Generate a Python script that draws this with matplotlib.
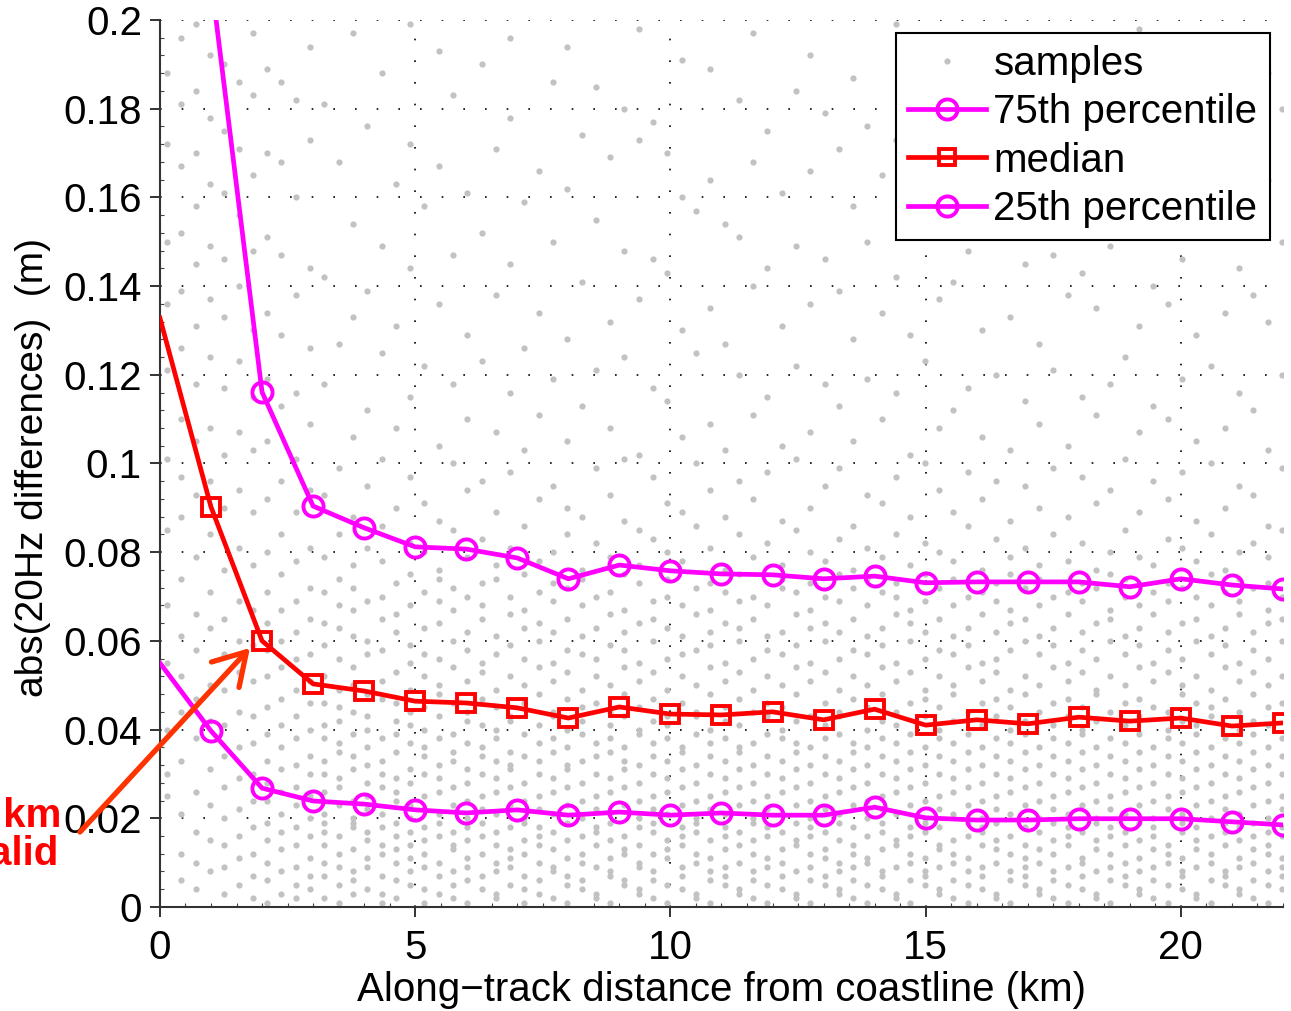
import matplotlib
matplotlib.use("Agg")
import matplotlib.pyplot as plt
from matplotlib.lines import Line2D
from matplotlib.ticker import FixedLocator, MultipleLocator

plt.rcParams['font.family'] = ['Liberation Sans', 'DejaVu Sans']

# percentiles per 1 km bin
dist_km = list(range(0, 23))
p75 = [0.260, 0.2093, 0.1161, 0.0904, 0.0855, 0.0812, 0.0807, 0.0787, 0.0740, 0.0771,
       0.0758, 0.0751, 0.0749, 0.0740, 0.0746, 0.0731, 0.0733, 0.0733, 0.0733, 0.0722,
       0.0740, 0.0726, 0.0717]
p50 = [0.1328, 0.0902, 0.0600, 0.0503, 0.0487, 0.0464, 0.0460, 0.0449, 0.0426, 0.0451,
       0.0435, 0.0433, 0.0440, 0.0422, 0.0446, 0.0410, 0.0422, 0.0413, 0.0428, 0.0419,
       0.0426, 0.0408, 0.0415]
p25 = [0.0550, 0.0397, 0.0268, 0.0239, 0.0232, 0.0219, 0.0212, 0.0219, 0.0207, 0.0214,
       0.0207, 0.0212, 0.0207, 0.0207, 0.0225, 0.0201, 0.0196, 0.0196, 0.0199, 0.0199,
       0.0199, 0.0192, 0.0185]

# 20Hz samples: along-track positions (km) and values in mm for each position
sample_x = [0.14, 0.42, 0.70, 0.98, 1.26, 1.54, 1.82, 2.10, 2.38, 2.66, 2.94, 3.22, 3.50,
            3.78, 4.06, 4.34, 4.62, 4.90, 5.18, 5.46, 5.74, 6.02, 6.30, 6.58, 6.86, 7.14,
            7.42, 7.70, 7.98, 8.26, 8.54, 8.82, 9.10, 9.38, 9.66, 9.94, 10.22, 10.50, 10.78,
            11.06, 11.34, 11.62, 11.90, 12.18, 12.46, 12.74, 13.02, 13.30, 13.58, 13.86,
            14.14, 14.42, 14.70, 14.98, 15.26, 15.54, 15.82, 16.10, 16.38, 16.66, 16.94,
            17.22, 17.50, 17.78, 18.06, 18.34, 18.62, 18.90, 19.18, 19.46, 19.74, 20.02,
            20.30, 20.58, 20.86, 21.14, 21.42, 21.70, 21.98]
sample_mm = [
    "25 30 40 55 68 85 101 121 136 150 172 188",
    "6 12 21 33 44 52 61 74 88 97 110 126 139 152 167 181 196",
    "4 10 17 26 38 47 58 66 79 93 105 118 131 145 158 170 184 199",
    "8 15 23 31 42 50 63 71 84 96 108 124 137 149 163 178 192",
    "3 9 14 20 27 34 41 49 57 65 76 90 102 117 133 146 161 175 190",
    "5 11 16 22 29 36 44 53 60 69 81 94 107 123 140 156 171 186",
    "2 7 12 18 24 30 37 43 51 59 67 77 89 103 115 130 148 165 183 197",
    "1 6 10 15 19 24 28 33 39 45 52 58 64 71 80 92 105 119 134 151 170 189",
    "3 8 13 17 21 26 31 36 41 47 54 60 67 75 84 96 113 129 147 168 186",
    "2 5 9 14 18 23 27 32 38 43 49 56 62 69 78 89 101 116 138 160 182",
    "4 7 11 16 20 25 30 34 40 46 51 57 65 72 81 94 109 126 144 173 194",
    "2 7 10 14 17 19 21 26 30 33 38 41 46 52 59 64 71 79 93 118 142 181",
    "1 5 9 12 16 23 27 29 35 37 42 45 49 56 63 68 74 84 99 127 168",
    "3 6 8 13 18 19 20 24 31 34 39 44 50 54 61 67 72 77 88 106 133 154 197",
    "4 9 11 15 17 22 25 28 32 36 40 43 48 57 60 69 81 95 112 139 176",
    "1 3 7 12 14 18 21 27 30 33 38 47 51 58 65 70 78 86 101 125 149 188",
    "2 6 10 13 16 19 24 26 29 35 39 42 46 53 62 66 73 90 108 131 163",
    "5 8 11 14 17 20 23 28 31 37 41 44 49 55 59 68 75 82 97 115 144 172 199",
    "1 4 9 12 15 18 22 25 30 34 36 40 45 52 57 63 71 80 91 122 158",
    "3 7 10 16 19 21 26 29 32 38 43 48 50 56 64 69 74 76 87 104 136 167 193",
    "2 5 8 13 14 17 23 27 33 35 39 46 54 60 67 72 85 100 118 147 183",
    "1 6 9 11 15 18 20 24 28 31 37 42 44 51 58 62 70 79 94 110 129 161",
    "4 7 12 16 19 22 25 30 34 36 41 47 53 55 65 68 73 83 96 123 152 190",
    "2 3 8 10 14 17 21 26 29 33 38 40 45 49 57 61 74 77 89 107 138 171",
    "5 9 11 13 18 23 27 31 32 35 42 43 52 59 66 70 81 98 116 145 178 196",
    "1 4 7 12 15 19 20 24 28 34 39 46 50 56 63 67 75 86 103 126 159",
    "3 6 10 14 16 18 22 25 30 33 37 41 48 54 60 64 71 78 92 111 134 166",
    "2 8 9 13 17 21 26 29 35 38 43 44 51 55 62 69 73 80 95 119 150 186",
    "1 5 7 11 15 19 23 27 31 32 36 40 47 53 58 65 72 84 90 105 128 162 194",
    "4 6 10 12 16 20 24 28 33 39 42 45 49 57 61 68 74 76 88 113 141 174",
    "2 3 9 14 17 18 22 25 30 34 37 46 52 56 63 70 82 99 121 155 185",
    "1 7 8 11 15 19 21 26 29 35 38 41 44 50 59 66 71 79 93 108 132 169",
    "5 6 12 13 16 23 27 31 33 36 43 48 54 58 62 67 75 87 101 124 148 180",
    "3 4 9 10 14 18 20 24 28 32 39 40 45 51 55 64 73 77 85 102 137 173 198",
    "2 6 8 12 17 19 22 25 30 34 37 42 47 53 60 65 69 83 97 117 146 177",
    "1 5 11 13 15 21 26 29 33 38 41 43 49 56 63 70 74 80 91 114 143 170",
    "4 7 9 14 16 18 23 27 31 35 36 46 52 57 61 68 78 89 106 130 160 191",
    "2 3 10 12 17 19 20 24 28 32 39 43 44 50 58 66 72 86 100 125 157",
    "1 6 8 11 15 22 25 30 34 37 40 48 54 59 62 67 73 81 94 109 135 164 189",
    "5 7 9 13 16 18 21 26 29 33 38 42 45 51 55 64 71 76 88 103 127 154",
    "3 4 10 14 17 23 27 31 35 36 41 47 53 60 63 69 75 84 96 120 151 182",
    "2 6 8 12 15 19 20 24 28 32 37 44 49 56 65 70 79 92 111 140 168 197",
    "1 5 9 11 16 18 22 25 30 34 39 43 46 52 58 61 68 82 98 115 144 175",
    "4 7 10 13 17 21 26 29 33 38 40 45 50 57 62 72 74 77 87 104 131 161",
    "2 3 8 14 15 19 23 27 31 35 37 42 48 54 59 66 71 85 101 122 149 184",
    "1 6 9 12 16 18 20 24 28 32 36 43 51 55 63 67 73 80 90 107 136 166 192",
    "5 7 11 13 17 22 25 30 34 38 41 46 53 60 64 70 78 95 118 146 179",
    "3 4 8 10 15 19 21 26 29 33 39 43 44 49 56 62 69 75 83 99 113 139 171",
    "2 6 9 12 14 18 23 27 31 35 37 47 52 58 65 72 76 86 105 128 158 187",
    "1 5 10 11 16 20 24 28 32 36 40 45 50 57 61 68 74 81 93 119 150 176",
    "4 7 8 13 17 19 22 25 30 34 38 42 48 54 59 63 71 79 91 110 134 165",
    "2 3 9 14 15 21 26 29 33 37 41 44 51 55 66 70 73 84 97 116 142 173 199",
    "1 6 10 12 16 18 23 27 31 35 39 46 53 60 64 67 77 88 102 129 162",
    "5 7 8 11 17 19 20 24 28 32 36 43 47 49 56 62 69 75 82 100 123 153 183",
    "3 4 9 13 14 18 22 25 30 34 38 40 45 52 58 65 72 80 94 108 137 170 194",
    "2 6 10 12 15 21 26 29 33 37 42 48 50 57 61 68 74 78 89 112 141 167",
    "1 5 8 11 16 19 23 27 31 35 39 44 54 59 63 70 86 98 117 148 180",
    "4 7 9 14 17 18 20 24 28 32 36 41 46 51 55 66 71 76 92 106 130 159 190",
    "2 3 10 13 15 19 22 25 30 34 38 43 47 53 56 62 69 73 83 96 120 151",
    "1 6 8 12 16 21 26 29 33 37 40 45 49 58 64 67 75 79 87 103 133 163 186",
    "5 7 9 11 14 18 23 27 31 35 39 42 48 52 60 65 72 81 95 114 145 174",
    "3 4 10 13 17 20 24 28 32 36 44 50 57 61 68 74 77 90 109 127 156 196",
    "2 6 8 12 15 19 22 25 30 34 38 41 46 54 59 63 70 84 99 121 147 177",
    "1 5 9 14 16 18 21 26 29 33 37 43 47 51 55 66 71 78 88 104 138 168",
    "4 7 10 11 17 23 27 31 35 39 40 45 53 58 62 69 73 82 97 115 143 181 192",
    "2 3 8 13 15 19 20 24 28 32 36 42 48 49 56 64 72 76 91 111 135 164",
    "1 6 9 12 16 18 22 25 30 34 38 44 52 60 65 67 75 80 94 118 149 179",
    "5 7 10 14 17 21 26 29 33 37 41 46 50 57 61 70 74 85 101 124 152 185",
    "3 4 8 11 15 19 23 27 31 35 39 43 47 54 59 63 68 79 89 107 131 160 198",
    "2 6 9 13 16 18 20 24 28 32 36 45 51 55 66 71 77 96 113 140 171",
    "1 5 10 12 14 22 25 30 34 38 40 44 53 58 62 69 73 83 92 110 136 166 189",
    "4 7 8 11 17 19 21 26 29 33 37 42 48 50 56 64 72 81 98 119 146 175",
    "2 3 9 13 15 18 23 27 31 35 39 41 46 52 60 65 70 78 87 105 129 157 193",
    "1 6 10 12 16 20 24 28 32 36 43 45 49 57 61 68 75 84 100 122 153 182",
    "5 7 8 14 17 19 22 25 30 34 38 47 54 59 63 71 76 90 108 134 162",
    "3 4 9 11 15 18 21 26 29 33 37 40 44 51 55 66 69 74 80 95 116 144 178 195",
    "2 6 10 13 16 19 23 27 31 35 39 42 48 53 58 62 72 82 93 112 138 169",
    "1 5 8 12 14 17 20 24 28 32 36 41 45 50 56 64 67 73 79 86 103 132 164 188",
    "4 7 9 11 16 18 22 25 30 34 38 46 52 60 65 70 85 99 120 150 180",
]

xs, ys = [], []
for x, col in zip(sample_x, sample_mm):
    for v in col.split():
        xs.append(x)
        ys.append(int(v) / 1000.0)

MAG = '#ff00ff'
RED = '#ff0000'
FS = 29

fig = plt.figure(figsize=(12.91, 10.11), dpi=100)
ax = fig.add_axes([0.1239, 0.1029, 0.8699, 0.8773])

ax.plot(xs, ys, ls='none', marker='o', ms=4.5, color='#c2c2c2', mec='none', zorder=1)

marks = list(range(1, 23))
ax.plot(dist_km, p75, color=MAG, lw=3.4, marker='o', ms=14.5, mfc='none',
        mec=MAG, mew=2.8, markevery=marks, zorder=3)
ax.plot(dist_km, p50, color=RED, lw=3.4, marker='s', ms=13, mfc='none',
        mec=RED, mew=2.8, markevery=marks, zorder=3)
ax.plot(dist_km, p25, color=MAG, lw=3.4, marker='o', ms=14.5, mfc='none',
        mec=MAG, mew=2.8, markevery=marks, zorder=3)

ax.set_xlim(0, 22)
ax.set_ylim(0, 0.2)
ax.xaxis.set_major_locator(FixedLocator([0, 5, 10, 15, 20]))
ax.set_xticklabels(['0', '5', '10', '15', '20'])
yt = [0, 0.02, 0.04, 0.06, 0.08, 0.1, 0.12, 0.14, 0.16, 0.18, 0.2]
ax.yaxis.set_major_locator(FixedLocator(yt))
ax.set_yticklabels(['0', '0.02', '0.04', '0.06', '0.08', '0.1', '0.12', '0.14',
                    '0.16', '0.18', '0.2'])
ax.xaxis.set_minor_locator(MultipleLocator(0.5))
ax.yaxis.set_minor_locator(MultipleLocator(0.004))
ax.tick_params(which='major', direction='out', length=7, width=1.3, labelsize=FS,
               color='#222222')
ax.tick_params(axis='x', which='major', pad=9)
ax.tick_params(axis='y', which='major', pad=6)
ax.tick_params(which='minor', direction='in', length=3, width=0.8, color='#444444')

for s in ['top', 'right']:
    ax.spines[s].set_visible(False)
for s in ['left', 'bottom']:
    ax.spines[s].set_linewidth(1.5)
    ax.spines[s].set_color('#333333')

ax.set_axisbelow(True)
ax.grid(which='major', color='black', linestyle=(0, (1, 12)), linewidth=1.2)

ax.set_xlabel('Along\u2212track distance from coastline (km)', fontsize=FS)
ax.xaxis.label.set_va('center')
ax.xaxis.set_label_coords(0.4996, -0.0936)
ax.set_ylabel('abs(20Hz differences)  (m)', fontsize=28)
ax.yaxis.label.set_va('center')
ax.yaxis.set_label_coords(-0.113, 0.495)

handles = [
    Line2D([], [], ls='none', marker='o', ms=4.5, color='#c2c2c2', mec='none'),
    Line2D([], [], color=MAG, lw=3.4, marker='o', ms=14.5, mfc='none', mec=MAG, mew=2.8),
    Line2D([], [], color=RED, lw=3.4, marker='s', ms=12, mfc='none', mec=RED, mew=2.8),
    Line2D([], [], color=MAG, lw=3.4, marker='o', ms=14.5, mfc='none', mec=MAG, mew=2.8),
]
labels = ['samples', '75th percentile', 'median', '25th percentile']
leg = ax.legend(handles, labels, loc='upper right', bbox_to_anchor=(0.988, 0.985),
                fontsize=FS, fancybox=False, framealpha=1, edgecolor='black',
                borderaxespad=0, handlelength=1.95, handletextpad=0.18,
                labelspacing=0.25, borderpad=0.3)
leg.get_frame().set_linewidth(1.5)

# annotation for the invalid first bins
ax.annotate('', xy=(1.763, 0.0584), xytext=(-1.567, 0.0169),
            arrowprops=dict(arrowstyle='->,head_length=0.75,head_width=0.45',
                            color='#ff3300', lw=3.8, shrinkA=0, shrinkB=0,
                            mutation_scale=30),
            annotation_clip=False, zorder=5)
fig.text(61 / 1291, 1 - 827 / 1011, '< 2 km', ha='right', va='baseline',
         fontsize=FS, fontweight='bold', color=RED)
fig.text(59 / 1291, 1 - 865 / 1011, 'invalid', ha='right', va='baseline',
         fontsize=FS, fontweight='bold', color=RED)

fig.savefig('out.png', dpi=100)
